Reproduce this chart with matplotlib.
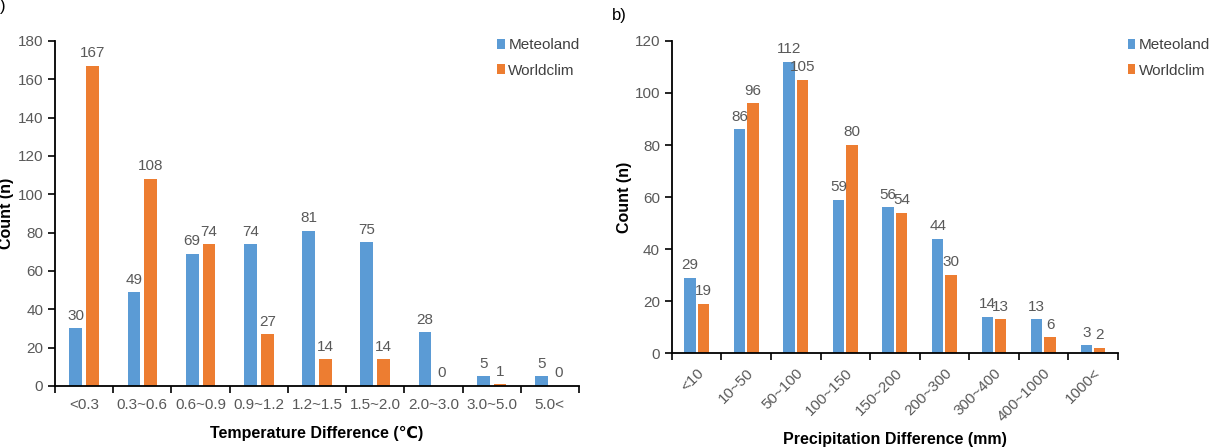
import matplotlib.pyplot as plt
import numpy as np

# Data
temp_cats = ['<0.3', '0.3~0.6', '0.6~0.9', '0.9~1.2', '1.2~1.5', '1.5~2.0', '2.0~3.0', '3.0~5.0', '5.0<']
temp_meteoland = [30, 49, 69, 74, 81, 75, 28, 5, 5]
temp_worldclim = [167, 108, 74, 27, 14, 14, 0, 1, 0]

prec_cats = ['<10', '10~50', '50~100', '100~150', '150~200', '200~300', '300~400', '400~1000', '1000<']
prec_meteoland = [29, 86, 112, 59, 56, 44, 14, 13, 3]
prec_worldclim = [19, 96, 105, 80, 54, 30, 13, 6, 2]

blue = '#5B9BD5'
orange = '#ED7D31'
grey = '#595959'

plt.rcParams['font.family'] = ['Liberation Sans', 'DejaVu Sans']

fig = plt.figure(figsize=(12.15, 4.48), dpi=100)
ax1 = fig.add_axes([0.0453, 0.1384, 0.4312, 0.7701])
ax2 = fig.add_axes([0.553, 0.212, 0.367, 0.6965])


def draw(ax, cats, m, w, ymax, step, xlabel, rot, width, gap, leg_x):
    x = np.arange(len(cats))
    off = width / 2 + gap / 2
    b1 = ax.bar(x - off, m, width, color=blue, label='Meteoland')
    b2 = ax.bar(x + off, w, width, color=orange, label='Worldclim')
    ax.bar_label(b1, padding=4, color=grey, fontsize=11)
    ax.bar_label(b2, padding=4, color=grey, fontsize=11)
    ax.set_xlim(-0.5, len(cats) - 0.5)
    ax.set_ylim(0, ymax)
    ax.set_yticks(np.arange(0, ymax + 1, step))
    # ticks between categories, labels at centres
    ax.set_xticks(np.arange(-0.5, len(cats)), minor=False)
    ax.set_xticklabels([])
    ax.set_xticks(x, minor=True)
    if rot:
        ax.set_xticklabels(cats, minor=True, rotation=45, ha='right',
                           rotation_mode='anchor')
    else:
        ax.set_xticklabels(cats, minor=True)
    ax.tick_params(axis='x', which='minor', length=0, pad=9,
                   labelsize=11, labelcolor=grey)
    ax.tick_params(axis='x', which='major', length=5, width=1.2, direction='out')
    ax.tick_params(axis='y', length=5, width=1.2, labelsize=11, labelcolor=grey)
    for s in ['top', 'right']:
        ax.spines[s].set_visible(False)
    for s in ['left', 'bottom']:
        ax.spines[s].set_linewidth(1.3)
    ax.set_xlabel(xlabel, fontsize=11.5, fontweight='bold', labelpad=10)
    ax.set_ylabel('Count (n)', fontsize=11.5, fontweight='bold', labelpad=8)
    ax.legend(loc='upper left', bbox_to_anchor=(leg_x, 0.915),
              bbox_transform=fig.transFigure, borderaxespad=0, borderpad=0,
              frameon=False, fontsize=11, handlelength=0.5, handleheight=0.6,
              handletextpad=0.25, labelspacing=0.75, labelcolor='#404040')


draw(ax1, temp_cats, temp_meteoland, temp_worldclim, 180, 20,
     'Temperature Difference (\u2103)', False, 0.22, 0.07, 0.409)
draw(ax2, prec_cats, prec_meteoland, prec_worldclim, 120, 20,
     'Precipitation Difference (mm)', True, 0.23, 0.04, 0.928)

ax1.yaxis.labelpad = 3
ax2.yaxis.labelpad = 2
ax2.xaxis.labelpad = 6
fig.text(0.0, 0.975, ')', fontsize=12)
fig.text(0.504, 0.955, 'b)', fontsize=12)

fig.savefig('out.png', dpi=100)
